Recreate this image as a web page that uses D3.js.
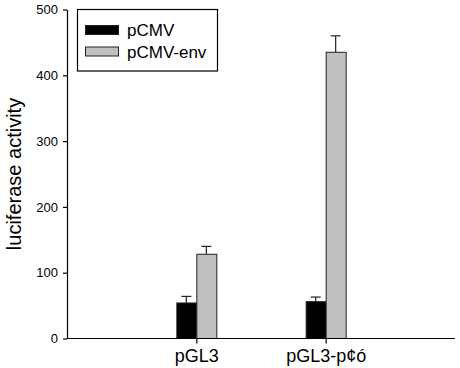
<!DOCTYPE html>
<html>
<head>
<meta charset="utf-8">
<script src="https://cdn.jsdelivr.net/npm/d3@7"></script>
<style>
  body { margin: 0; background: #fff; }
  text { font-family: "Liberation Sans", Arial, sans-serif; fill: #000; }
</style>
</head>
<body>
<svg id="chart" width="460" height="368"></svg>
<script>
// data
var groups = ["pGL3", "pGL3-p\u00a2\u00f3"]
  , series = ["pCMV", "pCMV-env"]
  , pCMV_values = [54, 56]
  , pCMV_errors = [10, 7]
  , env_values = [128, 435]
  , env_errors = [12, 25]
  , y_ticks = [0, 100, 200, 300, 400, 500];

var colors = {"pCMV": "#000000", "pCMV-env": "#c0c0c0"};

var margin = {left: 67, right: 5, top: 9.5, bottom: 29.5}
  , width = 460
  , height = 368
  , bar_w = 20;

var svg = d3.select("#chart");

var x = d3.scalePoint()
  .domain(groups)
  .range([margin.left, width - margin.right])
  .padding(1);

var y = d3.scaleLinear()
  .domain([0, 500])
  .range([height - margin.bottom, margin.top]);

// build rows per bar
var rows = [];
groups.forEach(function(g, i){
  rows.push({group: g, series: "pCMV", value: pCMV_values[i], err: pCMV_errors[i], off: -bar_w});
  rows.push({group: g, series: "pCMV-env", value: env_values[i], err: env_errors[i], off: 0});
});

// error bars (upward only), drawn first so the bar covers the stem bottom
var eb = svg.append("g").attr("stroke", "#222").attr("stroke-width", 1.2);
rows.forEach(function(d){
  var cx = x(d.group) + d.off + bar_w/2;
  eb.append("line")
    .attr("x1", cx).attr("x2", cx)
    .attr("y1", y(d.value)).attr("y2", y(d.value + d.err));
  eb.append("line")
    .attr("x1", cx - 5).attr("x2", cx + 5)
    .attr("y1", y(d.value + d.err)).attr("y2", y(d.value + d.err));
});

svg.append("g").selectAll("rect")
  .data(rows)
 .enter().append("rect")
  .attr("x", d => x(d.group) + d.off + 0.5)
  .attr("y", d => y(d.value))
  .attr("width", bar_w)
  .attr("height", d => y(0) - y(d.value))
  .attr("fill", d => colors[d.series])
  .attr("stroke", "#222")
  .attr("stroke-width", 1);

// y axis
var yAxis = svg.append("g")
  .attr("transform", "translate(" + margin.left + ",0)")
  .call(d3.axisLeft(y).tickValues(y_ticks).tickSize(4).tickPadding(5).tickSizeOuter(0));
yAxis.selectAll("text").style("font-size", "13px").attr("fill", "#000");
yAxis.selectAll("line, path").attr("stroke", "#000").attr("stroke-width", 1.2);

// x axis
var xAxis = svg.append("g")
  .attr("transform", "translate(0," + y(0) + ")")
  .call(d3.axisBottom(x).tickSize(5).tickPadding(6).tickSizeOuter(0));
xAxis.select(".domain").attr("d", "M" + margin.left + ",0H" + (width - margin.right));
xAxis.selectAll("text").style("font-size", "18px").attr("fill", "#000");
xAxis.selectAll("line, path").attr("stroke", "#000").attr("stroke-width", 1.2);

// y label
svg.append("text")
  .attr("transform", "translate(21," + ((y(0) + y(500))/2) + ") rotate(-90)")
  .attr("text-anchor", "middle")
  .style("font-size", "20px")
  .text("luciferase activity");

// legend
var legend = svg.append("g");
legend.append("rect")
  .attr("x", 77.5).attr("y", 9.5)
  .attr("width", 140).attr("height", 61.5)
  .attr("fill", "#fff").attr("stroke", "#000").attr("stroke-width", 1.2);

series.forEach(function(s, i){
  var ly = 25.5 + i * 21.5;
  legend.append("rect")
    .attr("x", 85.5).attr("y", ly)
    .attr("width", 33).attr("height", 9)
    .attr("fill", colors[s]).attr("stroke", "#222");
  legend.append("text")
    .attr("x", 127).attr("y", ly + 10.5)
    .style("font-size", "17px")
    .text(s);
});
</script>
</body>
</html>
